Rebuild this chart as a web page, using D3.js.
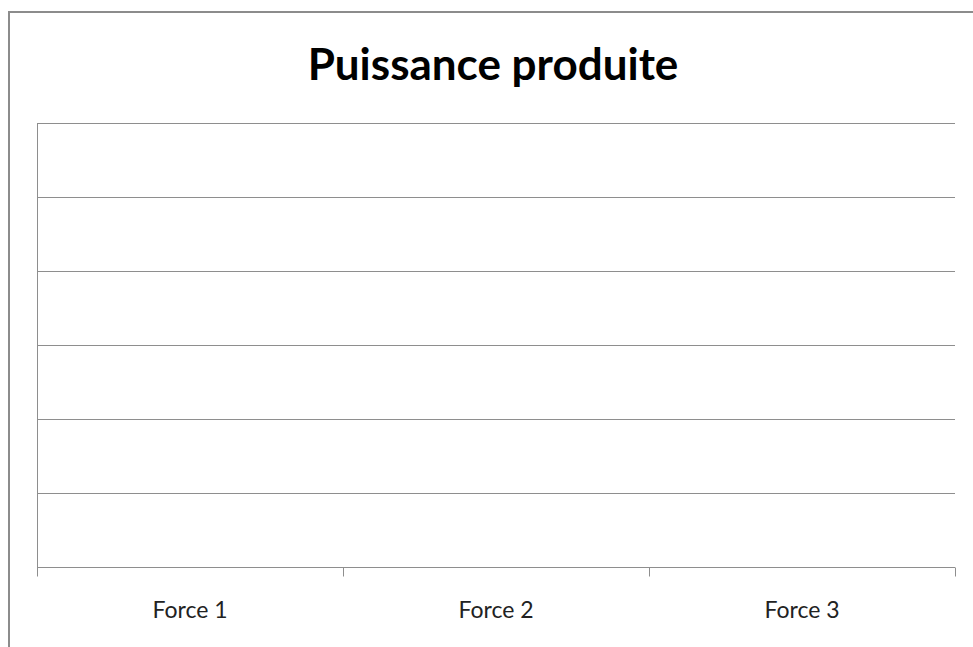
<!DOCTYPE html>
<html><head><meta charset="utf-8">
<script src="https://cdn.jsdelivr.net/npm/d3@7"></script>
<style>html,body{margin:0;padding:0;background:#fff;}svg{display:block;}</style>
</head><body>
<svg id="chart" width="973" height="647"></svg>
<script>
const title = "Puissance produite";
const categories = ["Force 1", "Force 2", "Force 3"];
const seriesValues = [null, null, null];
const yTicks = [0, 1, 2, 3, 4, 5, 6];

const svg = d3.select("#chart");
const W = 973, H = 647;
const m = {left: 37, right: 18, top: 123, bottom: 80};

// chart area border
svg.append("path")
  .attr("d", `M9,${H} V12 H${W}`)
  .attr("fill", "none").attr("stroke", "#8c8c8c").attr("stroke-width", 2);

svg.append("text")
  .attr("x", 493).attr("y", 80)
  .attr("text-anchor", "middle")
  .attr("font-family", "Lato, 'Open Sans', sans-serif")
  .attr("font-weight", "bold").attr("font-size", 44)
  .attr("fill", "#000")
  .text(title);

const x = d3.scaleBand().domain(categories).range([m.left, W - m.right]);
const y = d3.scaleLinear().domain([0, 6]).range([H - m.bottom, m.top]);

// gridlines
svg.append("g").selectAll("line").data(yTicks.slice(1)).join("line")
  .attr("x1", m.left).attr("x2", W - m.right)
  .attr("y1", d => Math.round(y(d)) + 0.5).attr("y2", d => Math.round(y(d)) + 0.5)
  .attr("stroke", "#8e8e8e").attr("stroke-width", 1);

// vertical axis line
svg.append("line")
  .attr("x1", m.left + 0.5).attr("x2", m.left + 0.5)
  .attr("y1", y(6)).attr("y2", y(0))
  .attr("stroke", "#8e8e8e");

// x axis
const xAxis = d3.axisBottom(x).tickSize(0).tickPadding(0);
const gx = svg.append("g").attr("transform", `translate(0,${Math.round(y(0)) + 0.5})`).call(xAxis);
gx.select(".domain").attr("stroke", "#8e8e8e").attr("d", `M${m.left},0H${W - m.right}`);
gx.selectAll(".tick text")
  .attr("y", 50.5).attr("dy", 0)
  .attr("font-family", "Lato, 'Open Sans', sans-serif")
  .attr("font-size", 23).attr("fill", "#222");
// tick marks at category boundaries
const bounds = categories.map(c => x(c)).concat([x(categories[categories.length - 1]) + x.bandwidth()]);
gx.append("g").selectAll("line").data(bounds).join("line")
  .attr("x1", d => Math.round(d) + 0.5).attr("x2", d => Math.round(d) + 0.5)
  .attr("y1", 0).attr("y2", 9)
  .attr("stroke", "#8e8e8e");

// series (empty)
svg.append("g").selectAll("rect").data(seriesValues.filter(v => v != null)).join("rect");
</script>
</body></html>
